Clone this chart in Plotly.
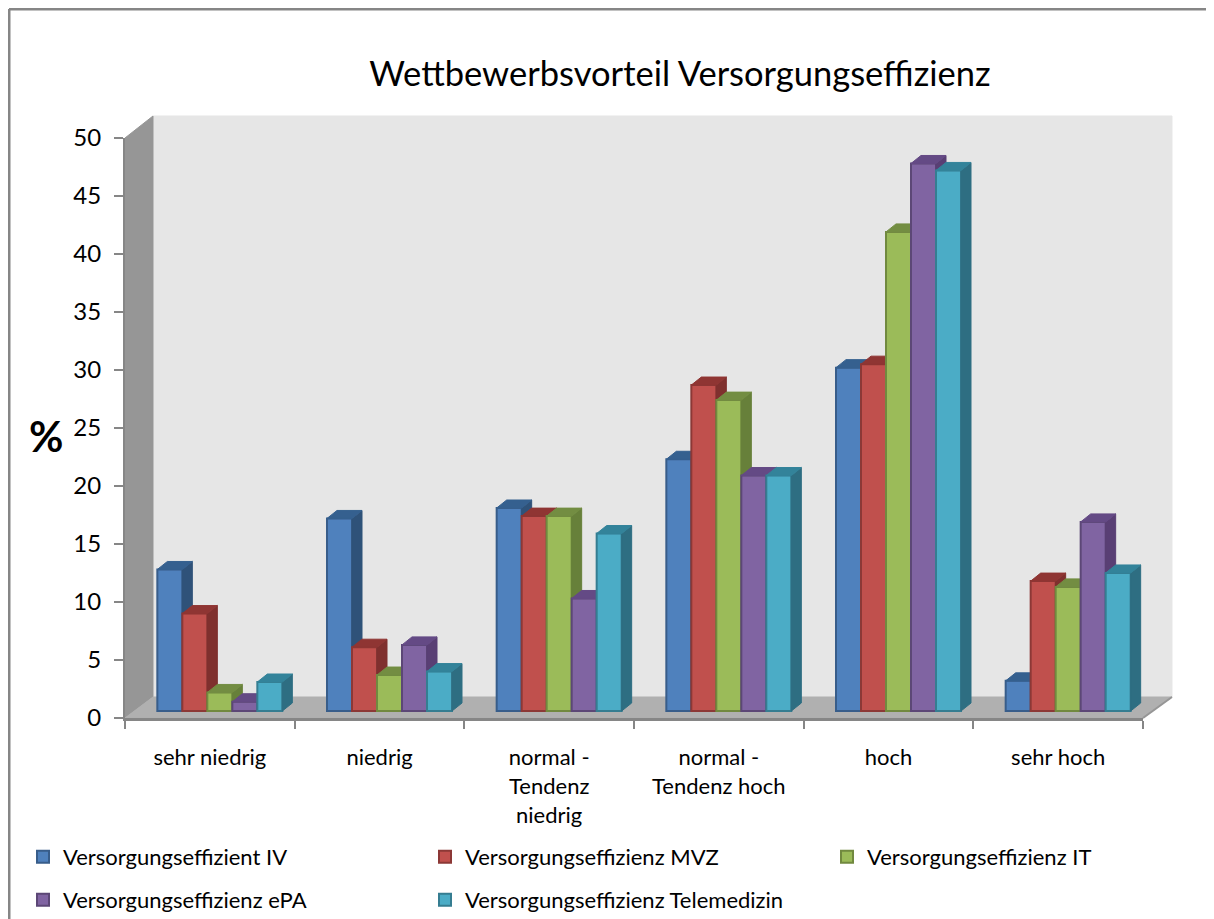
import plotly.graph_objects as go

categories = ["sehr niedrig", "niedrig", "normal -<br>Tendenz<br>niedrig", "normal -<br>Tendenz hoch", "hoch", "sehr hoch"]
iv = [12.2, 16.6, 17.5, 21.7, 29.6, 2.6]
mvz = [8.4, 5.5, 16.8, 28.1, 29.9, 11.2]
it = [1.6, 3.1, 16.8, 26.8, 41.3, 10.7]
epa = [0.8, 5.7, 9.7, 20.3, 47.2, 16.3]
telemedizin = [2.5, 3.4, 15.3, 20.3, 46.6, 11.9]

names = ["Versorgungseffizient IV", "Versorgungseffizienz MVZ", "Versorgungseffizienz IT",
         "Versorgungseffizienz ePA", "Versorgungseffizienz Telemedizin"]
values = [iv, mvz, it, epa, telemedizin]
legends = ["legend", "legend", "legend3", "legend2", "legend2"]
front = ["#4F81BD", "#C0504D", "#9BBB59", "#8064A2", "#4BACC6"]
border = ["#385D8A", "#8C3836", "#71893F", "#5C4776", "#357D91"]
side = ["#2F5279", "#7F302E", "#67803A", "#593F74", "#2E6E82"]
top = ["#35608F", "#8F3533", "#738D42", "#644A85", "#33839A"]

W, H = 1206, 911
FONT = "Lato"
GRAY = "#868686"


# page pixels to paper coordinates, the page has an 8px body margin
def px(p):
    return (p - 8) / W


def py(p):
    return 1 - (p - 8) / H


CAT_W = (1143 - 125) / 6
UNIT = (718 - 138) / 50
BAR_W = 25 / CAT_W
DX = 10 / CAT_W
DY = 8 / UNIT
SHIFT_X = 10 / CAT_W
SHIFT_Y = 7 / UNIT

fig = go.Figure()

for i, vals in enumerate(values):
    n = i + 2
    start = (i - 2.5) * BAR_W
    fig.add_trace(go.Bar(
        x=list(range(len(categories))), y=vals, name=names[i],
        width=BAR_W, offset=start,
        marker=dict(color=front[i], line=dict(color=border[i], width=2)),
        xaxis="x%d" % n, yaxis="y%d" % n,
        legend=legends[i],
    ))
    side_x, side_y, top_x, top_y = [], [], [], []
    for c, v in enumerate(vals):
        xl = c + start
        xr = xl + BAR_W
        side_x += [xr, xr, xr + DX, xr + DX, xr, None]
        side_y += [0, v, v + DY, DY, 0, None]
        top_x += [xl, xr, xr + DX, xl + DX, xl, None]
        top_y += [v, v, v + DY, v + DY, v, None]
    for fx, fy, col in [(side_x, side_y, side[i]), (top_x, top_y, top[i])]:
        fig.add_trace(go.Scatter(
            x=fx, y=fy, mode="lines", fill="toself", fillcolor=col,
            line=dict(color=col, width=1), hoverinfo="skip", showlegend=False,
            xaxis="x%d" % n, yaxis="y%d" % n,
        ))

# invisible trace so the visible axes exist
fig.add_trace(go.Scatter(x=[0], y=[0], mode="none", showlegend=False, hoverinfo="skip"))

layout_axes = {}
for i in range(5):
    n = i + 2
    # overlaid axes keep the domain of the base axis, so the floor offset goes in the range
    layout_axes["xaxis%d" % n] = dict(range=[-0.5 - SHIFT_X, 5.5 - SHIFT_X], visible=False, anchor="y%d" % n, overlaying="x")
    layout_axes["yaxis%d" % n] = dict(range=[-SHIFT_Y, 50 - SHIFT_Y], visible=False, anchor="x%d" % n, overlaying="y")


def poly(points, fill, line=None):
    path = "M" + "L".join("%f,%f" % (px(a), py(b)) for a, b in points) + "Z"
    return dict(type="path", path=path, xref="paper", yref="paper", fillcolor=fill,
                line=dict(color=line or fill, width=1), layer="below")


shapes = [
    poly([(153, 116), (1172, 116), (1172, 697), (153, 697)], "#E6E6E6"),
    poly([(125, 138), (153, 116), (153, 697), (125, 718)], "#969696"),
    poly([(125, 718), (153, 697), (1172, 697), (1143, 718)], "#B0B0B0"),
    dict(type="line", xref="paper", yref="paper", x0=px(1143), x1=px(1172), y0=py(718), y1=py(697),
         line=dict(color="#969696", width=2)),
    dict(type="line", xref="paper", yref="paper", x0=px(9), x1=1, y0=py(9), y1=py(9), line=dict(color=GRAY, width=3)),
    dict(type="line", xref="paper", yref="paper", x0=px(9), x1=px(9), y0=0, y1=py(9), line=dict(color=GRAY, width=3)),
]


def row_legend(x, y):
    return dict(orientation="h", x=px(x), xanchor="left", y=py(y), yanchor="middle",
                entrywidth=357, entrywidthmode="pixels", font=dict(size=22), bgcolor="rgba(0,0,0,0)")


fig.update_layout(
    width=W, height=H,
    margin=dict(l=0, r=0, t=0, b=0, autoexpand=False),
    paper_bgcolor="white", plot_bgcolor="rgba(0,0,0,0)",
    font=dict(family=FONT, color="black"),
    title=dict(text="Wettbewerbsvorteil Versorgungseffizienz", font=dict(size=34.5, family=FONT),
               x=px(680), xanchor="center", y=py(74), yanchor="middle"),
    xaxis=dict(
        domain=[px(125), px(1143)], range=[-0.5, 5.5],
        tickmode="array", tickvals=list(range(6)), ticktext=categories,
        ticks="", ticklen=0, showgrid=False, zeroline=False,
        showline=True, linecolor=GRAY, linewidth=3,
        tickfont=dict(size=22), ticklabelstandoff=18, anchor="y",
        minor=dict(tickvals=[-0.5, 0.5, 1.5, 2.5, 3.5, 4.5, 5.5], ticks="outside", ticklen=8, tickwidth=2, tickcolor=GRAY, showgrid=False),
    ),
    yaxis=dict(
        domain=[py(718), py(138)], range=[0, 50],
        tickmode="array", tickvals=list(range(0, 51, 5)),
        ticks="outside", ticklen=9, tickwidth=2, tickcolor=GRAY, ticklabelstandoff=8,
        showgrid=False, zeroline=False, showline=True, linecolor=GRAY, linewidth=2,
        tickfont=dict(size=24), anchor="x",
    ),
    legend=row_legend(23, 857),
    legend2=row_legend(23, 900),
    legend3=row_legend(827, 857),
    shapes=shapes,
    annotations=[dict(text="<b>%</b>", xref="paper", yref="paper", x=px(46), y=py(436), xanchor="center",
                      showarrow=False, font=dict(size=42, family=FONT))],
    **layout_axes,
)

fig.write_html("out.html")
